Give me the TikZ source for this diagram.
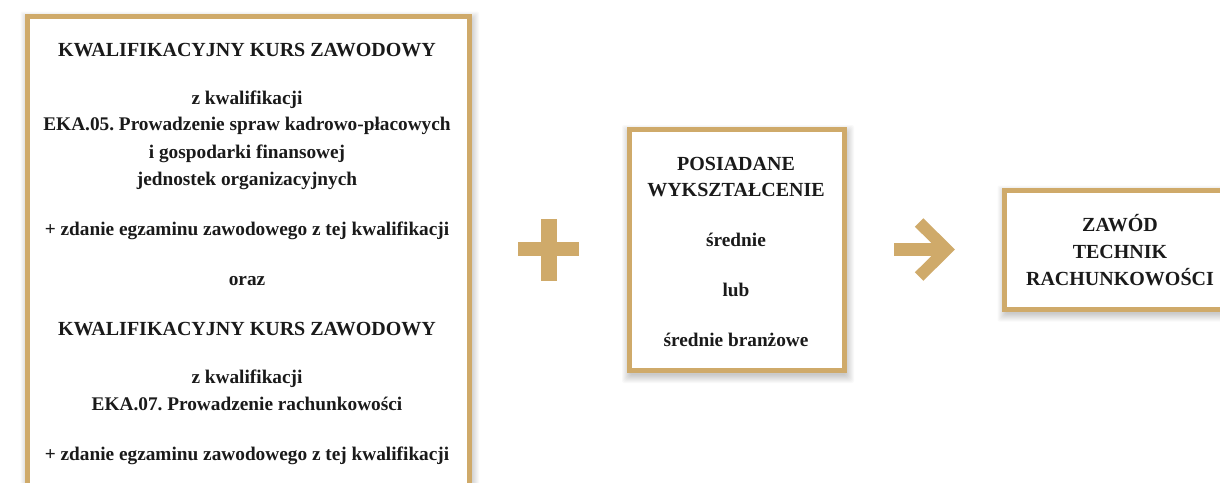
\documentclass[tikz,border=0pt]{standalone}
\usepackage{fontspec}
\setmainfont{Liberation Serif}
\definecolor{gold}{RGB}{207,170,106}
\definecolor{ink}{RGB}{26,26,26}
\frenchspacing
\newcommand\softshadow[4]{%
  \foreach \d in {0,...,8}{%
    \fill[black,opacity=0.025,rounded corners=2pt] (#1-\d+3.5,#2-\d+6) rectangle (#3+\d-0.5,#4+\d+2);}}
\begin{document}
\begin{tikzpicture}[x=1pt,y=-1pt,
  box/.style={draw=gold,line width=5pt,fill=white,inner sep=0pt},
  captxt/.style={anchor=base,inner sep=0pt,text=ink,font=\bfseries\fontsize{20}{24}\selectfont},
  txt/.style={anchor=base,inner sep=0pt,text=ink,font=\bfseries\fontsize{19.3}{23}\selectfont},
  sign/.style={fill=gold,draw=none}]
\useasboundingbox (0,0) rectangle (1220,482);
\clip (0,0) rectangle (1220,482);
\fill[white] (0,0) rectangle (1220,482);
% shadows
\softshadow{25}{13.5}{471.5}{522}
\softshadow{626.5}{127}{846.5}{373}
\softshadow{1002}{187.5}{1250}{311.5}
% boxes
\node[box,minimum width=441.5pt,minimum height=504pt] (left) at (248.25,268) {};
\node[box,minimum width=215pt,minimum height=241pt] (mid) at (736.5,250) {};
\node[box,minimum width=235.5pt,minimum height=119pt] (right) at (1122.25,249.5) {};
% left box text
\node[captxt] (l1) at (247,56) {KWALIFIKACYJNY KURS ZAWODOWY};
\node[txt] (l2) at (247,104) {z kwalifikacji};
\node[txt] (l3) at (247,130.7) {EKA.05. Prowadzenie spraw kadrowo-płacowych};
\node[txt] (l4) at (247,158) {i gospodarki finansowej};
\node[txt] (l5) at (247,185) {jednostek organizacyjnych};
\node[txt] (l6) at (247,235) {+ zdanie egzaminu zawodowego z tej kwalifikacji};
\node[txt] (l7) at (247,285) {oraz};
\node[captxt] (l8) at (247,335) {KWALIFIKACYJNY KURS ZAWODOWY};
\node[txt] (l9) at (247,383) {z kwalifikacji};
\node[txt] (l10) at (247,410) {EKA.07. Prowadzenie rachunkowości};
\node[txt] (l11) at (247,460) {+ zdanie egzaminu zawodowego z tej kwalifikacji};
% middle box text
\node[captxt] (m1) at (736,170) {POSIADANE};
\node[captxt] (m2) at (736,196.7) {WYKSZTAŁCENIE};
\node[txt] (m3) at (736,246.7) {średnie};
\node[txt] (m4) at (736,296) {lub};
\node[txt] (m5) at (736,346) {średnie branżowe};
% right box text
\node[captxt] (r1) at (1120,231.7) {ZAWÓD};
\node[captxt] (r2) at (1120,258.3) {TECHNIK};
\node[captxt] (r3) at (1120,285) {RACHUNKOWOŚCI};
% plus sign
\fill[sign] (518.3,241.7) rectangle (579.3,256.3);
\fill[sign] (540.7,219.3) rectangle (556.7,280.7);
% arrow
\draw[gold,line width=12.7pt] (894,249.5) -- (944,249.5);
\draw[gold,line width=12pt,line join=miter,line cap=butt] (919.2,222.5) -- (946.3,249.5) -- (919.2,276.5);
\end{tikzpicture}
\end{document}
